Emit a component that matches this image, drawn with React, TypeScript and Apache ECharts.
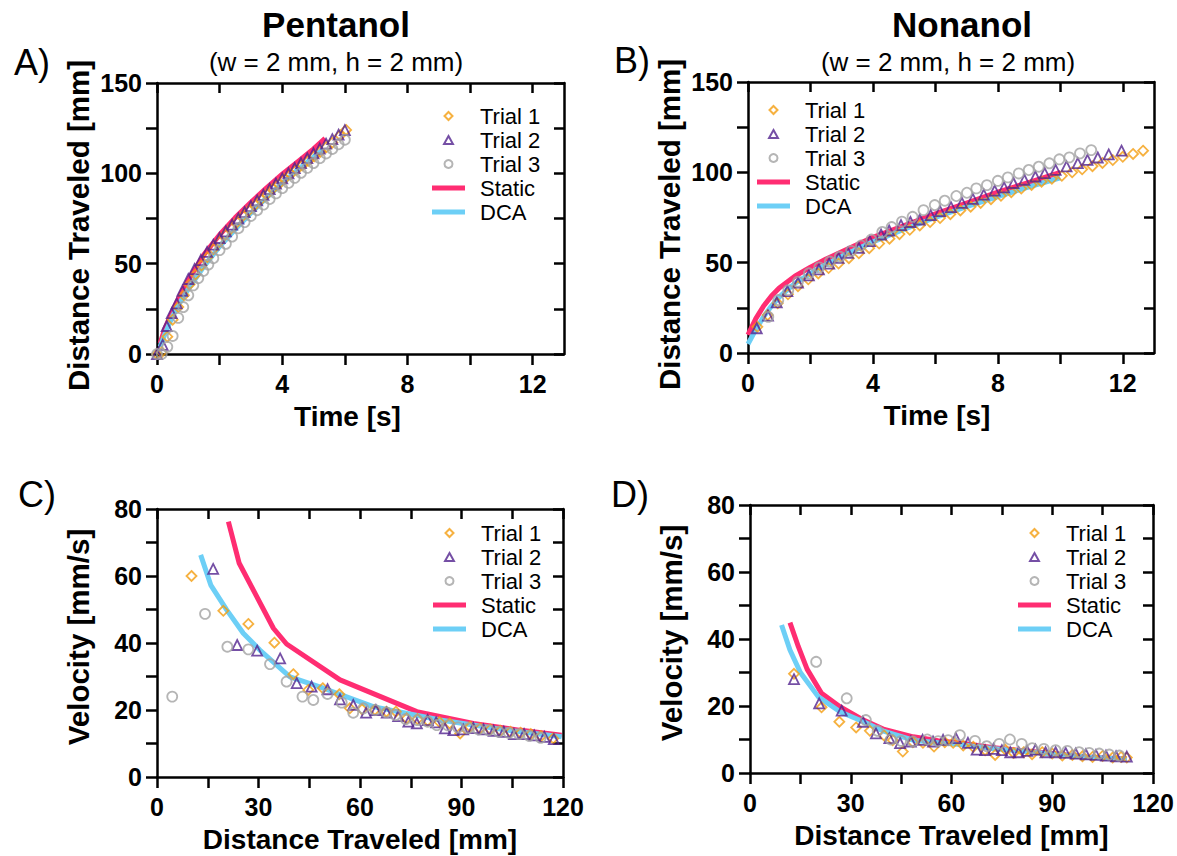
import React, { useEffect, useRef } from 'react';
import * as echarts from 'echarts';

const FONT = '"Liberation Sans", Arial, Helvetica, sans-serif';

// ---------- Legend / series names ----------
const SERIES_NAMES = ['Trial 1', 'Trial 2', 'Trial 3', 'Static', 'DCA'];

// ---------- Axis ticks & labels ----------
const TIME_TICKS = [0, 2, 4, 6, 8, 10, 12];
const TIME_LABELS = [0, 4, 8, 12];
const DIST_TICKS = [0, 25, 50, 75, 100, 125, 150];
const DIST_LABELS = [0, 50, 100, 150];
const POS_TICKS = [0, 15, 30, 45, 60, 75, 90, 105, 120];
const POS_LABELS = [0, 30, 60, 90, 120];
const VEL_TICKS = [0, 10, 20, 30, 40, 50, 60, 70, 80];
const VEL_LABELS = [0, 20, 40, 60, 80];

// ---------- Panel A: Pentanol, distance vs time ----------
const A_trial1 = [[0,0],[0.15,1],[0.33,9.6],[0.5,19],[0.68,26],[0.86,32.5],[1.04,38.5],[1.23,44],[1.42,49],[1.61,53.5],[1.8,58],[1.99,62],[2.18,66],[2.37,69.5],[2.56,73],[2.75,76.5],[2.94,79.5],[3.13,82.5],[3.32,85.5],[3.51,88.5],[3.7,91.5],[3.89,94],[4.08,97],[4.27,99.5],[4.46,102],[4.65,104.5],[4.84,107],[5.03,109.5],[5.22,112],[5.41,114.5],[5.6,117],[5.85,121],[6.04,124]];
const A_trial2 = [[0,0],[0.18,5],[0.31,15.5],[0.47,22.6],[0.63,28],[0.81,35],[1.0,41.5],[1.2,47],[1.4,52],[1.6,56.5],[1.8,60.5],[2.0,64.2],[2.2,67.9],[2.4,71.6],[2.6,75],[2.8,78.5],[3.0,81.8],[3.2,85],[3.4,88.1],[3.6,91.3],[3.8,94.3],[4.0,97.2],[4.2,100],[4.4,102.9],[4.6,105.7],[4.8,108.4],[5.0,111.1],[5.2,113.7],[5.4,116.4],[5.6,118.9],[5.8,121.4],[6.0,123.9]];
const A_trial3 = [[0,0],[0.15,0],[0.33,4],[0.5,10],[0.68,20],[0.84,26],[1.0,32.5],[1.16,38],[1.32,42],[1.48,46],[1.64,49.5],[1.8,53],[2.0,57.5],[2.2,61],[2.4,65],[2.6,69.6],[2.8,73],[3.0,76.4],[3.2,79.6],[3.4,82.7],[3.6,85.8],[3.8,88.9],[4.0,91.8],[4.2,94.7],[4.4,97.5],[4.6,100.3],[4.8,103],[5.0,105.7],[5.2,108.4],[5.4,111],[5.6,113.5],[5.8,116.1],[6.0,118.6]];
const A_static = [[0.1,6],[0.25,14],[0.5,24],[0.75,33],[1,41],[1.5,55],[2,66],[2.5,75.5],[3,84],[3.5,92],[4,99.5],[4.5,106.5],[5,113.5],[5.37,119.3]];
const A_dca = [[0.1,4],[0.25,11],[0.5,21],[0.75,29],[1,36],[1.5,48.5],[2,59.5],[2.5,69],[3,78],[3.5,86.5],[4,94.5],[4.5,102],[5,109],[5.3,113]];

// ---------- Panel B: Nonanol, distance vs time ----------
const B_trial1 = [[0.3,14.5],[0.63,21],[0.95,27.5],[1.28,32.5],[1.6,37],[1.93,40.8],[2.25,44],[2.58,47],[2.9,49.5],[3.23,52.5],[3.55,55.2],[3.88,58],[4.2,60.6],[4.53,63.3],[4.85,65.8],[5.18,68.2],[5.5,70.6],[5.83,72.5],[6.15,74.7],[6.48,76.8],[6.8,78.9],[7.13,81],[7.45,83.1],[7.78,85.1],[8.1,87],[8.43,89],[8.75,91],[9.08,93],[9.4,94.8],[9.73,96.4],[10.05,98.1],[10.38,100],[10.7,101.7],[11.03,103.4],[11.35,105.2],[11.68,106.8],[12.0,108.6],[12.33,110.2],[12.65,112]];
const B_trial2 = [[0.28,13.7],[0.64,20.7],[0.92,28],[1.26,34.3],[1.6,38.9],[1.95,43],[2.27,46.3],[2.6,49.5],[2.9,52.6],[3.2,55.5],[3.55,58.2],[3.9,61.9],[4.26,65.6],[4.52,67.8],[4.9,70.8],[5.2,72.5],[5.5,73.9],[5.85,76.3],[6.15,78.5],[6.5,80.7],[6.85,83.1],[7.2,85.3],[7.55,87.7],[7.9,89.9],[8.2,91.7],[8.5,94.1],[8.85,95.9],[9.2,97.7],[9.5,99.6],[9.85,101.4],[10.2,103.3],[10.56,105.1],[10.87,106.9],[11.2,108.2],[11.55,109.9],[11.96,112]];
const B_trial3 = [[0.65,20],[0.97,29.3],[1.29,34.8],[1.6,39.5],[1.95,44.1],[2.28,47.4],[2.62,50.6],[2.94,53.3],[3.3,56.5],[3.62,59.5],[3.95,62.8],[4.3,67],[4.6,69.7],[4.93,72.7],[5.27,75.4],[5.62,79.1],[5.98,81.9],[6.3,84.3],[6.67,86.9],[7.01,88.7],[7.31,91.1],[7.65,92.9],[8.0,95.3],[8.32,97.2],[8.67,99.4],[8.99,101.3],[9.31,103.1],[9.65,105],[9.97,107.2],[10.29,108.3],[10.63,110.5],[10.99,112.3]];
const B_static = [[0,10],[0.25,19],[0.5,26],[0.75,31.5],[1,36],[1.5,42.5],[2,47.5],[2.5,52],[3,56],[3.5,60],[4,64],[5,70.5],[6,77],[7,83],[8,89],[9,94.5],[10,100]];
const B_dca = [[0,5],[0.25,13],[0.5,20],[0.75,26],[1,31],[1.5,38.5],[2,44],[2.5,49],[3,53.5],[3.5,57.5],[4,61.5],[5,68.5],[6,75],[7,81],[8,86.5],[9,92],[10,97]];

// ---------- Panel C: Pentanol, velocity vs distance ----------
const C_trial1 = [[10.2,60],[19.6,49.6],[27,45.7],[34.7,40.1],[40.3,30.7],[44.7,26],[49,26.5],[53.9,24.7],[57,20.5],[60.6,20.2],[64.4,20],[67.8,19.5],[70.6,19.5],[73.8,17.5],[77,17.3],[80,16.8],[83.5,16.4],[86.5,16],[89.6,13],[92.5,15],[95.5,14.5],[98.5,14.2],[101.5,13.8],[104.5,13.5],[107.5,13.2],[110.5,12.8],[113.5,12.2],[117.1,11.5]];
const C_trial2 = [[16.6,62.1],[23.7,39.4],[29.6,37.7],[36.4,35.4],[41.3,28],[45.7,27],[50.4,26.2],[54.1,23.2],[58,21.5],[61.8,19.2],[64.7,20],[67.9,19.2],[71.3,18.2],[74.3,16.5],[76.8,16],[80,17],[82.5,16.3],[85.1,14.5],[87.6,14],[90.5,14.2],[93.5,14.6],[96.5,14.2],[99.5,13.8],[102.5,13.5],[105.5,12.8],[108.5,12.8],[111.5,12.4],[114.5,12],[117.3,11.3]];
const C_trial3 = [[4.5,24],[14.2,48.7],[20.8,38.9],[27,38.1],[33.4,33.7],[38.3,28.5],[43,24],[46.2,23],[50.4,24.8],[54.6,22.2],[58,19.2],[61,20.5],[64.5,20],[67.8,19.3],[70.5,18.5],[73.5,17.3],[77,17],[80,16.5],[82.7,15.5],[86,15.4],[89,14.8],[92,14.6],[95,14.2],[98,14],[101,13.5],[104,13.2],[107,12.8],[110,12.3],[113.4,11.7]];
const C_static = [[21.1,76.2],[24.3,63.8],[34.4,44.4],[38.3,39.7],[54.1,29],[76.8,19.5],[93.5,16],[107,14],[119.6,12.5]];
const C_dca = [[12.9,66.3],[15.9,57.3],[20.6,49.9],[25.5,42.9],[30.4,37.9],[39.3,29.9],[49.2,26.5],[63.9,21],[83.7,17],[103.4,14],[119.6,12]];

// ---------- Panel D: Nonanol, velocity vs distance ----------
const D_trial1 = [[13.1,29.6],[21.3,19.6],[26.6,15.3],[31.6,13.6],[35.7,12.6],[39.9,11.2],[42.5,9.8],[45.5,6.4],[48.5,9.2],[51.5,9],[54.8,7.9],[58,9.2],[60.5,9],[63.5,8.2],[66.5,7.8],[70,6.8],[73,5.4],[76,7],[78.5,6],[81.5,6.2],[84,5.6],[87,6.2],[90,5.8],[93,5.2],[96,5.4],[99,5],[102,4.8],[105,5.1],[108,4.6],[110.5,4.8],[112.2,4.6]];
const D_trial2 = [[13.1,28],[20.6,20.8],[27.3,18.6],[33.6,15.3],[37.5,11.8],[41.5,10.4],[44.7,8.9],[47.9,9.4],[51.4,9.9],[54.5,9.4],[57.5,9.9],[61.3,10.4],[64.9,9],[67.5,7],[70,6.8],[72.5,7.2],[75,6.8],[77.5,6.2],[80,6.2],[82.5,6.6],[85,7],[88,6.2],[91,6.2],[94,6],[97,5.8],[100,5.6],[103,5.4],[106,5.2],[109,5],[112.2,4.9]];
const D_trial3 = [[19.7,33.2],[28.8,22.3],[34.5,15.8],[38,12.6],[41.9,10],[45,9.6],[48.5,9.4],[52.8,10],[56,9.5],[59,9.8],[62.5,11.3],[67,9.6],[70.5,8],[74.2,8.7],[77.4,10],[80.9,8.7],[84,7.4],[87.5,7.2],[91,6.8],[94.5,6.6],[98,6.2],[101,6],[104,5.8],[107,5.5],[110,5.2]];
const D_static = [[11.9,44.9],[14.4,37.7],[17,31],[21.3,23.8],[26.8,19.8],[33.8,15.8],[40,13],[48.6,10.8],[56,9.6],[63.5,8.8],[72,7.6],[80,6.8],[90,5.8],[100,4.8],[112.2,4.2]];
const D_dca = [[9.4,44.2],[11.9,36.7],[15,30],[20.3,22.8],[26.8,18.3],[33.8,15.3],[40,12.4],[48.6,9.8],[56,9],[63.5,8.4],[72,7.3],[80,6.6],[90,5.7],[100,4.8],[112.2,4.1]];

const COLORS = {
  t1: '#F49D10',
  t2: '#52238F',
  t3: '#A2A2A2',
  st: '#FF2D72',
  dca: '#6DCFF6',
};

// legend icon shapes (kept in aspect inside the legend icon box)
const ICON_DIAMOND = 'path://M5,0L10,5L5,10L0,5Z';
const ICON_TRIANGLE = 'path://M5,0L10,9L0,9Z';
const ICON_LINE = 'path://M0,0L66,0L66,10L0,10Z';

type PanelCfg = {
  grid: { left: number; top: number; width: number; height: number };
  xMin: number; xMax: number; xInterval: number; xTicks: number[]; xLabels: number[]; xName: string; xNamePad: number;
  yMin: number; yMax: number; yInterval: number; yTicks: number[]; yLabels: number[]; yName: string; yNamePad: number[];
  legend: { left: number; top: number };
  data: number[][][];
};

const PANELS: PanelCfg[] = [
  {
    grid: { left: 157, top: 83, width: 407, height: 271 },
    xMin: 0, xMax: 13, xInterval: 2, xTicks: TIME_TICKS, xLabels: TIME_LABELS, xName: 'Time [s]', xNamePad: 26,
    yMin: 0, yMax: 150, yInterval: 25, yTicks: DIST_TICKS, yLabels: DIST_LABELS, yName: 'Distance Traveled [mm]', yNamePad: [0, 14, 0, 0],
    legend: { left: 432, top: 105 },
    data: [A_trial1, A_trial2, A_trial3, A_static, A_dca],
  },
  {
    grid: { left: 748, top: 82, width: 406, height: 271 },
    xMin: 0, xMax: 13, xInterval: 2, xTicks: TIME_TICKS, xLabels: TIME_LABELS, xName: 'Time [s]', xNamePad: 28,
    yMin: 0, yMax: 150, yInterval: 25, yTicks: DIST_TICKS, yLabels: DIST_LABELS, yName: 'Distance Traveled [mm]', yNamePad: [0, 14, 0, 0],
    legend: { left: 757, top: 99 },
    data: [B_trial1, B_trial2, B_trial3, B_static, B_dca],
  },
  {
    grid: { left: 157, top: 509, width: 406, height: 268 },
    xMin: 0, xMax: 120, xInterval: 15, xTicks: POS_TICKS, xLabels: POS_LABELS, xName: 'Distance Traveled [mm]', xNamePad: 0,
    yMin: 0, yMax: 80, yInterval: 10, yTicks: VEL_TICKS, yLabels: VEL_LABELS, yName: 'Velocity [mm/s]', yNamePad: [0, 0, 0, 12],
    legend: { left: 433, top: 522 },
    data: [C_trial1, C_trial2, C_trial3, C_static, C_dca],
  },
  {
    grid: { left: 750, top: 505, width: 403, height: 268 },
    xMin: 0, xMax: 120, xInterval: 15, xTicks: POS_TICKS, xLabels: POS_LABELS, xName: 'Distance Traveled [mm]', xNamePad: 0,
    yMin: 0, yMax: 80, yInterval: 10, yTicks: VEL_TICKS, yLabels: VEL_LABELS, yName: 'Velocity [mm/s]', yNamePad: [0, 0, 0, 12],
    legend: { left: 1018, top: 522 },
    data: [D_trial1, D_trial2, D_trial3, D_static, D_dca],
  },
];

const AXIS_W = 2.5;
const MARKER_W = 1.8;

function buildOption() {
  const grid: any[] = [];
  const xAxis: any[] = [];
  const yAxis: any[] = [];
  const series: any[] = [];
  const legend: any[] = [];

  PANELS.forEach((p, i) => {
    grid.push({ ...p.grid });
    const lineStyle = { color: '#000', width: AXIS_W };
    const labelStyle = { fontSize: 25, fontWeight: 'bold', color: '#000', fontFamily: FONT };
    const nameStyle = { fontWeight: 'bold', color: '#000', fontFamily: FONT };
    xAxis.push({
      type: 'value', gridIndex: i, position: 'bottom', min: p.xMin, max: p.xMax, interval: p.xInterval,
      axisLine: { show: true, onZero: false, lineStyle },
      axisTick: { show: true, inside: false, length: 11, lineStyle, customValues: p.xTicks },
      axisLabel: {
        show: true, margin: 17, ...labelStyle, customValues: p.xLabels,
        formatter: (v: number) => (p.xLabels.indexOf(v) >= 0 ? String(v) : ''),
      },
      splitLine: { show: false },
      name: p.xName, nameLocation: 'middle', nameGap: 48,
      nameTextStyle: { ...nameStyle, fontSize: 28, padding: [0, p.xNamePad, 0, 0] },
    });
    xAxis.push({
      type: 'value', gridIndex: i, position: 'top', min: p.xMin, max: p.xMax, interval: p.xInterval,
      axisLine: { show: true, onZero: false, lineStyle },
      axisTick: { show: true, inside: true, length: 10, lineStyle, customValues: p.xTicks },
      axisLabel: { show: false },
      splitLine: { show: false },
    });
    yAxis.push({
      type: 'value', gridIndex: i, position: 'left', min: p.yMin, max: p.yMax, interval: p.yInterval,
      axisLine: { show: true, onZero: false, lineStyle },
      axisTick: { show: true, inside: false, length: 11, lineStyle, customValues: p.yTicks },
      axisLabel: {
        show: true, margin: 15, ...labelStyle, customValues: p.yLabels,
        formatter: (v: number) => (p.yLabels.indexOf(v) >= 0 ? String(v) : ''),
      },
      splitLine: { show: false },
      name: p.yName, nameLocation: 'middle', nameGap: 64,
      nameTextStyle: { ...nameStyle, fontSize: 29.5, padding: p.yNamePad },
    });
    yAxis.push({
      type: 'value', gridIndex: i, position: 'right', min: p.yMin, max: p.yMax, interval: p.yInterval,
      axisLine: { show: true, onZero: false, lineStyle },
      axisTick: { show: true, inside: true, length: 10, lineStyle, customValues: p.yTicks },
      axisLabel: { show: false },
      splitLine: { show: false },
    });

    const xi = i * 2;
    const yi = i * 2;
    const [t1, t2, t3, st, dca] = p.data;
    series.push(
      {
        type: 'line', name: 'Static', xAxisIndex: xi, yAxisIndex: yi, data: st, symbol: 'none',
        lineStyle: { color: COLORS.st, width: 5 }, itemStyle: { color: COLORS.st }, z: 2,
      },
      {
        type: 'line', name: 'DCA', xAxisIndex: xi, yAxisIndex: yi, data: dca, symbol: 'none',
        lineStyle: { color: COLORS.dca, width: 5 }, itemStyle: { color: COLORS.dca }, z: 2,
      },
      {
        type: 'scatter', name: 'Trial 1', xAxisIndex: xi, yAxisIndex: yi, data: t1, symbol: 'diamond', symbolSize: 10,
        itemStyle: { color: 'rgba(255,255,255,0)', borderColor: COLORS.t1, borderWidth: MARKER_W }, z: 3,
      },
      {
        type: 'scatter', name: 'Trial 2', xAxisIndex: xi, yAxisIndex: yi, data: t2, symbol: 'triangle', symbolSize: 10,
        itemStyle: { color: 'rgba(255,255,255,0)', borderColor: COLORS.t2, borderWidth: MARKER_W }, z: 3,
      },
      {
        type: 'scatter', name: 'Trial 3', xAxisIndex: xi, yAxisIndex: yi, data: t3, symbol: 'circle', symbolSize: 10,
        itemStyle: { color: 'rgba(255,255,255,0)', borderColor: COLORS.t3, borderWidth: MARKER_W }, z: 3,
      },
    );

    const scatterIconStyle = (c: string) => ({ color: 'rgba(255,255,255,0)', borderColor: c, borderWidth: 2 });
    const lineIconStyle = (c: string) => ({ color: c, borderWidth: 0 });
    legend.push({
      orient: 'vertical', left: p.legend.left, top: p.legend.top, padding: 0,
      itemWidth: 33, itemHeight: 8, itemGap: 2, selectedMode: false,
      data: [
        { name: SERIES_NAMES[0], icon: ICON_DIAMOND, itemStyle: scatterIconStyle(COLORS.t1) },
        { name: SERIES_NAMES[1], icon: ICON_TRIANGLE, itemStyle: scatterIconStyle(COLORS.t2) },
        { name: SERIES_NAMES[2], icon: 'circle', itemStyle: scatterIconStyle(COLORS.t3) },
        { name: SERIES_NAMES[3], icon: ICON_LINE, itemStyle: lineIconStyle(COLORS.st) },
        { name: SERIES_NAMES[4], icon: ICON_LINE, itemStyle: lineIconStyle(COLORS.dca) },
      ],
      textStyle: { fontSize: 22, color: '#000', fontFamily: FONT, lineHeight: 22, padding: [0, 0, 0, 10] },
    });
  });

  const txt = (text: string, x: number, y: number, size: number, weight: string) => ({
    type: 'text', x, y,
    style: { text, fill: '#000', font: `${weight} ${size}px ${FONT}`, align: 'center', verticalAlign: 'middle' },
  });

  const graphic = [
    txt('Pentanol', 336, 24, 35, 'bold'),
    txt('(w = 2 mm, h = 2 mm)', 336, 62, 26, 'normal'),
    txt('Nonanol', 962, 24, 35, 'bold'),
    txt('(w = 2 mm, h = 2 mm)', 948, 62, 26, 'normal'),
    txt('A)', 32, 62, 36, 'normal'),
    txt('B)', 632, 60, 36, 'normal'),
    txt('C)', 37, 494, 36, 'normal'),
    txt('D)', 630, 494, 36, 'normal'),
  ];

  return {
    animation: false,
    backgroundColor: '#fff',
    textStyle: { fontFamily: FONT },
    grid, xAxis, yAxis, series, legend, graphic,
  };
}

export default function App() {
  const ref = useRef<HTMLDivElement>(null);
  useEffect(() => {
    document.body.style.margin = '0';
    if (!ref.current) return;
    const chart = echarts.init(ref.current, undefined, { renderer: 'svg' });
    chart.setOption(buildOption() as any);
    return () => chart.dispose();
  }, []);
  return <div ref={ref} style={{ width: 1177, height: 856, background: '#fff' }} />;
}
